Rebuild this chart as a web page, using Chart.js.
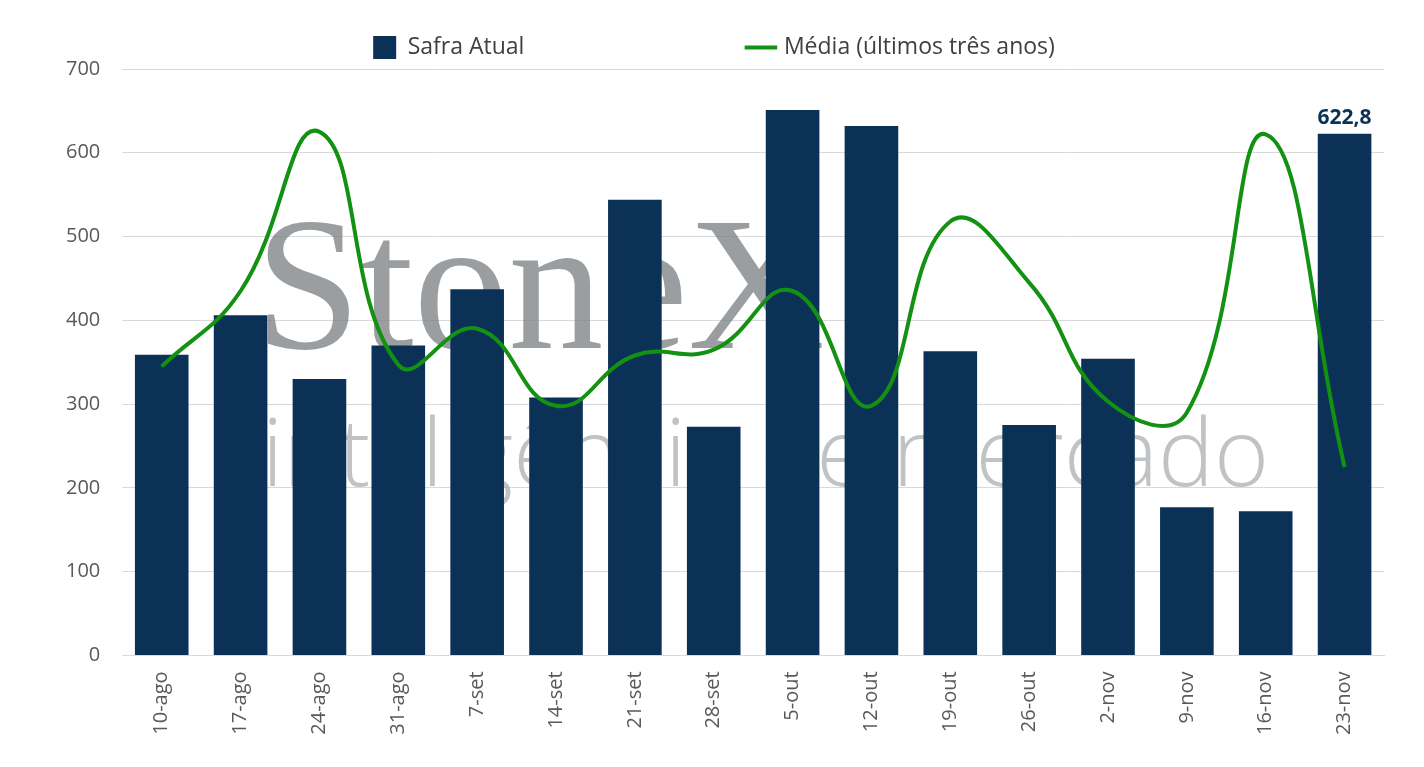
<!DOCTYPE html>
<html>
<head>
<meta charset="utf-8">
<script src="https://cdn.jsdelivr.net/npm/chart.js@4"></script>
<style>
  body { margin: 0; background: #fff; }
  #wrap { width: 1424px; height: 767px; }
</style>
</head>
<body>
<div id="wrap"><canvas id="chart"></canvas></div>
<script>
const semanas = ['10-ago', '17-ago', '24-ago', '31-ago', '7-set', '14-set', '21-set', '28-set',
    '5-out', '12-out', '19-out', '26-out', '2-nov', '9-nov', '16-nov', '23-nov'];
const safraAtual = [359, 406, 330, 370, 437, 308, 544, 273, 651, 632, 363, 275, 354, 177, 172, 622.8];
const mediaTresAnos = [345, 435, 625, 347, 390, 298, 358, 365, 435, 298, 518, 445, 303, 290, 622, 225];

// marca d'água e rótulo da última barra
const extras = {
    id: 'extras',
    beforeDatasetsDraw(chart) {
        const ctx = chart.ctx;
        ctx.save();
        ctx.fillStyle = 'rgba(120,125,130,0.75)';
        ctx.font = '190px "Liberation Serif"';
        ctx.textBaseline = 'alphabetic';
        ctx.fillText('StoneX', 255, 348);
        ctx.fillStyle = 'rgba(150,155,160,0.6)';
        ctx.font = '300 94px "Open Sans"';
        ctx.fillText('inteligência de mercado', 262, 486);
        ctx.restore();
    },
    afterDatasetsDraw(chart) {
        const meta = chart.getDatasetMeta(0);
        const last = meta.data[meta.data.length - 1];
        const ctx = chart.ctx;
        ctx.save();
        ctx.fillStyle = '#0b3256';
        ctx.font = 'bold 21px "Open Sans"';
        ctx.textAlign = 'center';
        ctx.fillText(safraAtual[safraAtual.length - 1].toFixed(1).replace('.', ','), last.x, last.y - 16);
        ctx.restore();
    }
};

new Chart(document.getElementById('chart'), {
    type: 'bar',
    data: {
        labels: semanas,
        datasets: [{
            label: 'Safra Atual' + '\u2003'.repeat(9),
            data: safraAtual,
            backgroundColor: '#0b3256',
            categoryPercentage: 0.68,
            barPercentage: 1,
            pointStyle: 'rect',
            order: 2
        }, {
            type: 'line',
            label: 'Média (últimos três anos)',
            data: mediaTresAnos,
            borderColor: '#139113',
            borderWidth: 4,
            pointRadius: 0,
            tension: 0.45,
            pointStyle: 'line',
            order: 1
        }]
    },
    options: {
        responsive: true,
        maintainAspectRatio: false,
        animation: false,
        layout: { padding: { left: 44, right: 40, top: 18, bottom: 24 } },
        scales: {
            y: {
                min: 0,
                max: 700,
                ticks: { stepSize: 100, color: '#595959', font: { size: 20, family: 'Open Sans' }, padding: 22 },
                grid: { color: '#d9d9d9', drawTicks: false },
                border: { display: false }
            },
            x: {
                ticks: { color: '#595959', font: { size: 20, family: 'Open Sans' }, maxRotation: 90, minRotation: 90, padding: 8 },
                grid: { display: false },
                border: { color: '#d9d9d9' }
            }
        },
        plugins: {
            legend: {
                labels: {
                    usePointStyle: true,
                    color: '#404040',
                    font: { size: 23, family: 'Open Sans' },
                    padding: 18,
                    boxWidth: 40,
                    sort: (a, b) => a.datasetIndex - b.datasetIndex
                }
            },
            tooltip: { enabled: false }
        }
    },
    plugins: [extras]
});
</script>
</body>
</html>
